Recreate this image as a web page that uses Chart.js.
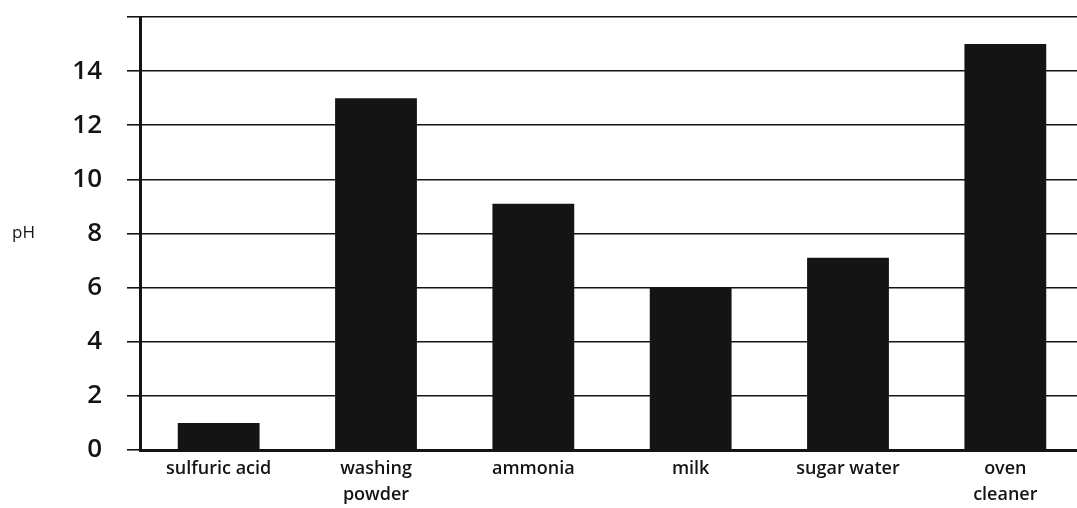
<!DOCTYPE html>
<html>
<head>
<meta charset="utf-8">
<script src="https://cdn.jsdelivr.net/npm/chart.js@4.4.1/dist/chart.umd.min.js"></script>
<style>
  html, body { margin: 0; padding: 0; background: #fff; overflow: hidden; }
  #wrap { width: 1084px; height: 508px; }
</style>
</head>
<body>
<div id="wrap"><canvas id="phChart" width="1084" height="508"></canvas></div>
<script>
// pH of household substances
const categories = [['sulfuric acid'], ['washing', 'powder'], ['ammonia'], ['milk'], ['sugar water'], ['oven', 'cleaner']];
const phValues = [1, 13, 9.1, 6, 7.1, 15];
const yTicks = [0, 2, 4, 6, 8, 10, 12, 14];

const INK = '#141414';

// draws the horizontal "pH" label left of the axis
const phLabel = {
    id: 'phLabel',
    afterDraw(chart) {
        const ctx = chart.ctx;
        const y = chart.scales.y.getPixelForValue(8);
        ctx.save();
        ctx.font = '17px "Open Sans"';
        ctx.fillStyle = INK;
        ctx.textBaseline = 'middle';
        ctx.fillText('pH', 12, y);
        ctx.restore();
    }
};

new Chart(document.getElementById('phChart'), {
    type: 'bar',
    data: {
        labels: categories,
        datasets: [{
            data: phValues,
            backgroundColor: INK,
            borderWidth: 0,
            barPercentage: 0.52,
            categoryPercentage: 1
        }]
    },
    options: {
        responsive: false,
        animation: false,
        layout: { padding: { top: 17, right: 0, left: 0, bottom: 0 } },
        plugins: { legend: { display: false }, tooltip: { enabled: false } },
        scales: {
            x: {
                grid: { display: true, drawOnChartArea: false, drawTicks: false },
                border: { display: true, color: INK, width: 3 },
                ticks: {
                    color: INK,
                    padding: 6,
                    maxRotation: 0,
                    font: { family: '"Open Sans"', size: 18, weight: '600', lineHeight: 1.45 }
                },
                afterFit(scale) { scale.height = 58; }
            },
            y: {
                min: 0,
                max: 16,
                grid: { color: INK, lineWidth: 1.6, tickLength: 13 },
                border: { display: true, color: INK, width: 3 },
                ticks: {
                    stepSize: 2,
                    color: INK,
                    padding: 25,
                    font: { family: '"Open Sans"', size: 26, weight: '600' },
                    callback: (v) => yTicks.includes(v) ? String(v) : ''
                },
                afterFit(scale) {
                    scale.width = 140;
                    scale.paddingTop = 0;
                    scale.paddingBottom = 0;
                }
            }
        }
    },
    plugins: [phLabel]
});
</script>
</body>
</html>
